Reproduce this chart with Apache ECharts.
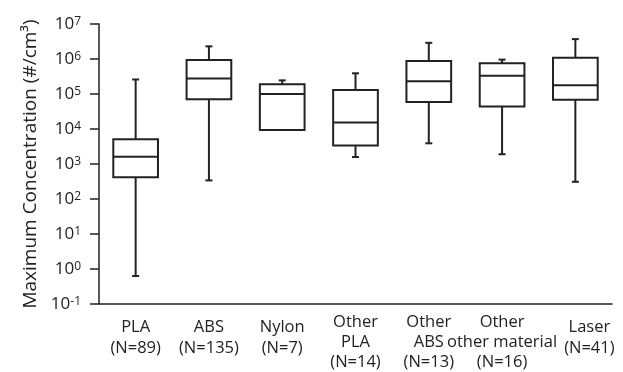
<!DOCTYPE html>
<html>
<head>
<meta charset="utf-8">
<script src="https://cdn.jsdelivr.net/npm/echarts@6/dist/echarts.min.js"></script>
<style>html,body{margin:0;padding:0;background:#fff}#chart{width:623px;height:372px}</style>
</head>
<body>
<div id="chart"></div>
<script>
var categories = ['PLA\n(N=89)', 'ABS\n(N=135)', 'Nylon\n(N=7)', 'Other\nPLA\n(N=14)', 'Other\nABS\n(N=13)', 'Other\nother material\n(N=16)', 'Laser\n(N=41)'];
var whiskerLow = [0.63, 340, 9300, 1580, 3900, 1900, 310];
var q1 = [420, 71000, 9300, 3400, 59000, 44000, 69000];
var median = [1620, 276000, 100000, 15400, 230000, 330000, 178000];
var q3 = [5070, 940000, 190000, 130000, 880000, 750000, 1090000];
var whiskerHigh = [260000, 2300000, 245000, 390000, 2900000, 960000, 3700000];
var yTickExponents = [-1, 0, 1, 2, 3, 4, 5, 6, 7];

var data = categories.map(function (c, i) {
  return [i, whiskerLow[i], q1[i], median[i], q3[i], whiskerHigh[i]];
});

var axisCategories = categories.map(function (c, i) {
  var lines = c.split('\n').length;
  var ts = lines === 2 ? { lineHeight: 21, padding: [5, 0, 0, 0] } : { lineHeight: 20, padding: [0, 0, 0, 0] };
  if (i === categories.length - 1) ts.padding = [5, 0, 0, 28];
  return { value: c, textStyle: ts };
});

var lineColor = '#222';
var textColor = '#222';
var chart = echarts.init(document.getElementById('chart'));
chart.setOption({
  animation: false,
  grid: { left: 99, right: 11, top: 24, bottom: 68, containLabel: false, outerBoundsMode: 'none' },
  xAxis: {
    type: 'category',
    data: axisCategories,
    axisLine: { show: true, lineStyle: { color: lineColor, width: 1.5 } },
    axisTick: { show: false },
    axisLabel: {
      interval: 0, margin: 8, fontFamily: 'Open Sans', fontSize: 16.5,
      lineHeight: 20, color: textColor, verticalAlign: 'top', hideOverlap: false
    },
    splitLine: { show: false }
  },
  yAxis: {
    type: 'log',
    logBase: 10,
    min: Math.pow(10, yTickExponents[0]),
    max: Math.pow(10, yTickExponents[yTickExponents.length - 1]),
    name: 'Maximum Concentration (#/cm³)',
    nameLocation: 'middle',
    nameGap: 58,
    nameTextStyle: { fontFamily: 'Open Sans', fontSize: 19, color: textColor },
    axisLine: { show: true, lineStyle: { color: lineColor, width: 1.5 } },
    axisTick: { show: true, inside: false, length: 9, lineStyle: { color: lineColor, width: 1.5 } },
    splitLine: { show: false },
    minorTick: { show: false },
    axisLabel: {
      margin: 18,
      formatter: function (v) {
        var e = Math.round(Math.log10(v));
        return '{b|10}{s|' + e + '}';
      },
      rich: {
        b: { fontFamily: 'Open Sans', fontSize: 17, color: textColor, lineHeight: 17, padding: [6, 0, 0, 0], verticalAlign: 'bottom' },
        s: { fontFamily: 'Open Sans', fontSize: 12, color: textColor, lineHeight: 12, verticalAlign: 'top' }
      }
    }
  },
  series: [{
    type: 'custom',
    data: data,
    encode: { x: 0, y: [1, 2, 3, 4, 5] },
    renderItem: function (params, api) {
      var x = api.value(0);
      var band = api.size([1, 0])[0];
      var half = band * 0.305;
      var cap = 3.5;
      var pLow = api.coord([x, api.value(1)]);
      var pQ1 = api.coord([x, api.value(2)]);
      var pMed = api.coord([x, api.value(3)]);
      var pQ3 = api.coord([x, api.value(4)]);
      var pHigh = api.coord([x, api.value(5)]);
      var cx = pMed[0];
      var st = { stroke: lineColor, lineWidth: 2, fill: null };
      var children = [];
      if (pHigh[1] < pQ3[1] - 0.5) {
        children.push({ type: 'line', shape: { x1: cx, y1: pHigh[1], x2: cx, y2: pQ3[1] }, style: st });
        children.push({ type: 'line', shape: { x1: cx - cap, y1: pHigh[1], x2: cx + cap, y2: pHigh[1] }, style: st });
      }
      if (pLow[1] > pQ1[1] + 0.5) {
        children.push({ type: 'line', shape: { x1: cx, y1: pQ1[1], x2: cx, y2: pLow[1] }, style: st });
        children.push({ type: 'line', shape: { x1: cx - cap, y1: pLow[1], x2: cx + cap, y2: pLow[1] }, style: st });
      }
      children.push({ type: 'rect', shape: { x: cx - half, y: pQ3[1], width: half * 2, height: pQ1[1] - pQ3[1] }, style: { stroke: lineColor, lineWidth: 2, fill: '#fff' } });
      children.push({ type: 'line', shape: { x1: cx - half, y1: pMed[1], x2: cx + half, y2: pMed[1] }, style: st });
      return { type: 'group', children: children };
    }
  }]
});
</script>
</body>
</html>
